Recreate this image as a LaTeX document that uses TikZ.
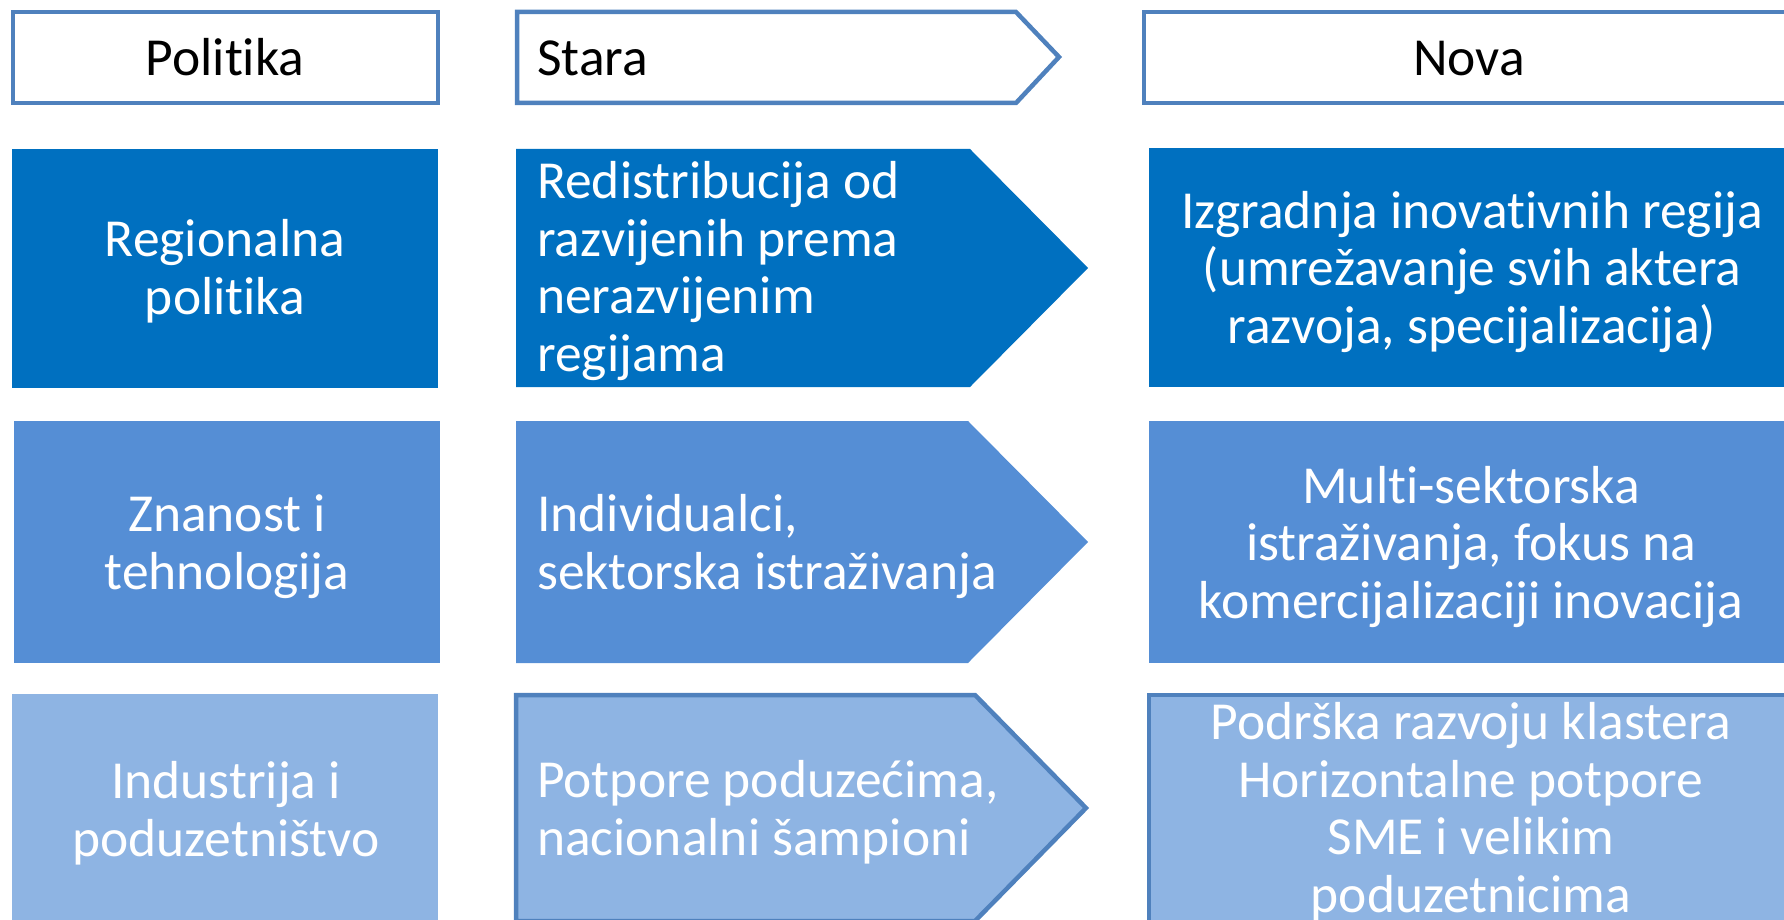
\documentclass[tikz,border=0pt]{standalone}
\usepackage{fontspec}
\setmainfont[Ligatures={NoCommon,NoContextual}]{Carlito}
\definecolor{dk}{HTML}{0070C0}
\definecolor{md}{HTML}{558ED5}
\definecolor{lt}{HTML}{8EB4E3}
\definecolor{bord}{HTML}{4F81BD}
\tikzset{
  hdr/.style={draw=bord, line width=4.5pt, fill=white},
  lbox/.style={draw=bord, line width=4.5pt, fill=lt},
  txt/.style={font=\fontsize{53.5}{57.5}\selectfont, inner sep=0pt, anchor=base, align=center},
  ltxt/.style={txt, anchor=base west, align=left},
  wtxt/.style={txt, text=white},
  wltxt/.style={ltxt, text=white}
}
\begin{document}
\begin{tikzpicture}[x=1pt,y=-1pt]
\useasboundingbox (0,0) rectangle (1784,920);
\begin{scope}
\clip (0,0) rectangle (1784,920);
% header row
\path[hdr] (13,12) rectangle (438,103);
\path[hdr] (517,12) -- (1016,12) -- (1059,57) -- (1016,103) -- (517,103) -- cycle;
\path[hdr] (1144,12) rectangle (1800,103);
% row 1
\fill[dk] (12,149) rectangle (438,388);
\fill[dk] (516,149) -- (970,149) -- (1088,268) -- (970,387) -- (516,387) -- cycle;
\fill[dk] (1149,148) rectangle (1784,387);
% row 2
\fill[md] (14,421) rectangle (440,663);
\fill[md] (516,421) -- (968,421) -- (1088,542) -- (968,663) -- (516,663) -- cycle;
\fill[md] (1149,421) rectangle (1784,663);
% row 3
\fill[lt] (12,694) rectangle (438,930);
\path[lbox] (516,695) -- (975,695) -- (1086,808) -- (975,921) -- (516,921) -- cycle;
\path[lbox] (1149,695) rectangle (1800,924);
\end{scope}
% texts (base anchor = baseline of the last line)
\node[txt] (politika) at (225,76) {Politika};
\node[ltxt] (stara) at (537,76) {Stara};
\node[txt] (nova) at (1469,76) {Nova};
\node[wtxt] (regionalna) at (225,314) {Regionalna\\politika};
\node[wltxt] (redis) at (537,371) {Redistribucija od\\razvijenih prema\\nerazvijenim\\regijama};
\node[wtxt] (izgr) at (1472,343) {Izgradnja inovativnih regija\\(umrežavanje svih aktera\\razvoja, specijalizacija)};
\node[wtxt] (znanost) at (227,589) {Znanost i\\tehnologija};
\node[wltxt] (indiv) at (537,589) {Individualci,\\sektorska istraživanja};
\node[wtxt] (multi) at (1471,618) {Multi-sektorska\\istraživanja, fokus na\\komercijalizaciji inovacija};
\node[wtxt] (industrija) at (226,856) {Industrija i\\poduzetništvo};
\node[wltxt] (potpore) at (537,855) {Potpore poduzećima,\\nacionalni šampioni};
\node[wtxt] (podrska) at (1471,912) {Podrška razvoju klastera\\Horizontalne potpore\\SME i velikim\\poduzetnicima};
\end{tikzpicture}
\end{document}
